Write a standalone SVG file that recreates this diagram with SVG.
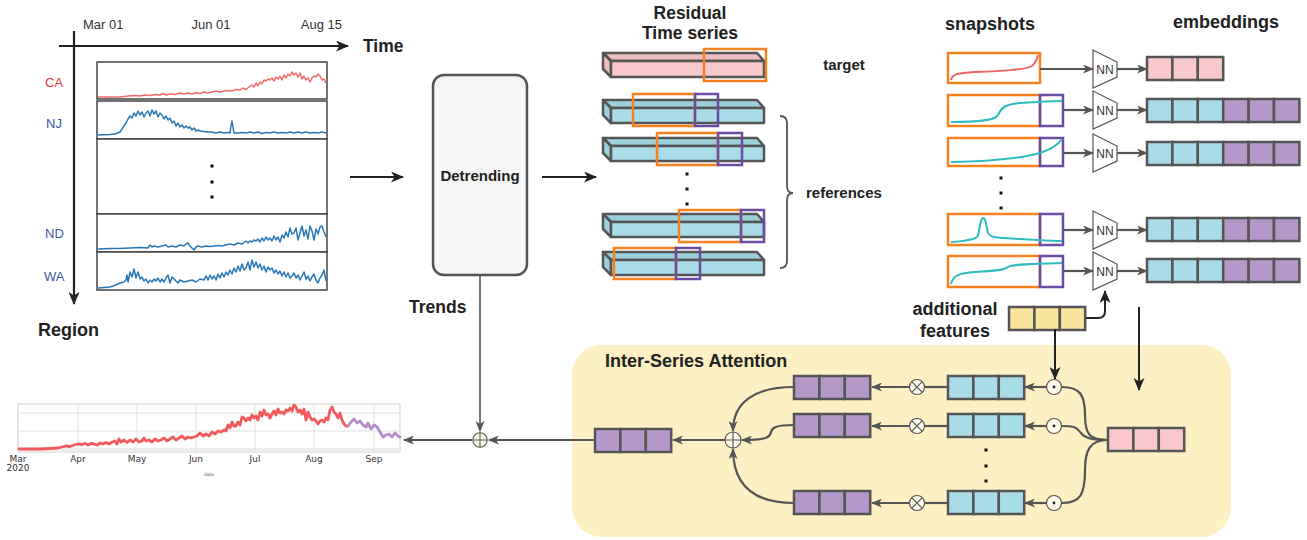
<svg xmlns="http://www.w3.org/2000/svg" xmlns:xlink="http://www.w3.org/1999/xlink" width="1307" height="540" viewBox="0 0 1307 540">
<style>
.t{font-family:"Liberation Sans",Arial,sans-serif;}
.b{font-family:"Liberation Sans",Arial,sans-serif;font-weight:bold;fill:#222;}
.cell{stroke:#555;stroke-width:2.5;}
.pk{fill:#f8c8cc}.bl{fill:#a8dce8}.pu{fill:#b597c9}.ye{fill:#fae39c}
.conn{stroke:#555;stroke-width:2.2;fill:none}
.blk{stroke:#222;stroke-width:2;fill:none}
.or{fill:none;stroke:#f5821f;stroke-width:2.5}
.vi{fill:none;stroke:#6a4ca2;stroke-width:2.5}
.dot{fill:#111}
.op{fill:#fffbea;stroke:#555;stroke-width:1.2}
.ser{fill:none;stroke-width:1.5;stroke-linejoin:round}
.fc{fill:none;stroke-width:2.8;stroke-linejoin:round;stroke-linecap:round}
.row{fill:#fff;stroke:#444;stroke-width:1.5}
.grid{stroke:#e2e2e2;stroke-width:1}
.tick{font-family:"DejaVu Sans",sans-serif;font-size:9px;fill:#333;text-anchor:middle}
.tiny{font-family:"DejaVu Sans",sans-serif;font-size:4.5px;fill:#555;text-anchor:middle}
</style>
<defs>
<marker id="ag" markerUnits="userSpaceOnUse" markerWidth="11" markerHeight="9" refX="10" refY="4.5" orient="auto"><path d="M0,0 L11,4.5 L0,9 L3,4.5 z" fill="#555"/></marker>
<marker id="ab" markerUnits="userSpaceOnUse" markerWidth="13" markerHeight="11" refX="12" refY="5.5" orient="auto"><path d="M0,0 L13,5.5 L0,11 L3.5,5.5 z" fill="#222"/></marker>
<g id="e3pk"><rect class="cell pk" x="0" y="0" width="25.4" height="23"/><rect class="cell pk" x="25.4" y="0" width="25.4" height="23"/><rect class="cell pk" x="50.8" y="0" width="25.4" height="23"/></g>
<g id="e3bl"><rect class="cell bl" x="0" y="0" width="25.4" height="23"/><rect class="cell bl" x="25.4" y="0" width="25.4" height="23"/><rect class="cell bl" x="50.8" y="0" width="25.4" height="23"/></g>
<g id="e3pu"><rect class="cell pu" x="0" y="0" width="25.4" height="23"/><rect class="cell pu" x="25.4" y="0" width="25.4" height="23"/><rect class="cell pu" x="50.8" y="0" width="25.4" height="23"/></g>
<g id="e3ye"><rect class="cell ye" x="0" y="0" width="25.4" height="23"/><rect class="cell ye" x="25.4" y="0" width="25.4" height="23"/><rect class="cell ye" x="50.8" y="0" width="25.4" height="23"/></g>
<g id="barPk" stroke="#555" stroke-width="2.5" stroke-linejoin="round"><polygon points="0,0 154,0 161,8 8,8" fill="#efbcc0"/><polygon points="0,0 8,8 8,24 0,16" fill="#efbcc0"/><rect x="8" y="8" width="153" height="16" fill="#f8c8cc"/></g>
<g id="barBl" stroke="#555" stroke-width="2.5" stroke-linejoin="round"><polygon points="0,0 154,0 161,8 8,8" fill="#9bd0dd"/><polygon points="0,0 8,8 8,23 0,15" fill="#9bd0dd"/><rect x="8" y="8" width="153" height="15" fill="#a8dce8"/></g>
<g id="nn"><polygon points="0,-19 24,-7 24,8 0,19" fill="#fff" stroke="#555" stroke-width="1.2"/><text class="t" x="12" y="4.5" font-size="12" text-anchor="middle" fill="#333">NN</text></g>
<g id="odot"><circle class="op" r="7.5"/><circle r="1.4" fill="#222"/></g>
<g id="otimes"><circle class="op" r="7.5"/><path d="M-5.3,-5.3 L5.3,5.3 M-5.3,5.3 L5.3,-5.3" stroke="#555" stroke-width="1.2"/></g>
<g id="oplus"><circle r="8" fill="#fffbea" stroke="#555" stroke-width="1.2"/><path d="M-8,0 H8 M0,-8 V8" stroke="#555" stroke-width="1.2"/></g>
</defs>

<!-- attention background -->
<rect id="attention-bg" x="572" y="345" width="659" height="192" rx="30" fill="#fdf0c3"/>

<!-- Left region/time chart -->
<g id="input-chart">
<text class="t" x="83" y="28.5" font-size="13" fill="#333">Mar 01</text>
<text class="t" x="211" y="28.5" font-size="13" fill="#333" text-anchor="middle">Jun 01</text>
<text class="t" x="342" y="28.5" font-size="13" fill="#333" text-anchor="end">Aug 15</text>
<line x1="59" y1="46" x2="348" y2="46" class="blk" style="stroke-width:2.2" marker-end="url(#ab)"/>
<line x1="74" y1="31" x2="74" y2="304" class="blk" style="stroke-width:2.2" marker-end="url(#ab)"/>
<text class="b" x="363" y="52" font-size="17.5">Time</text>
<text class="b" x="38" y="336" font-size="18">Region</text>
<rect class="row" x="97" y="62" width="230" height="37"/>
<rect class="row" x="97" y="101" width="230" height="38"/>
<rect class="row" x="97" y="139" width="230" height="75"/>
<rect class="row" x="97" y="214" width="230" height="38"/>
<rect class="row" x="97" y="252" width="230" height="38"/>
<text class="t" x="45" y="87" font-size="13" fill="#e8343c">CA</text>
<text class="t" x="46" y="128" font-size="13" fill="#3d55a8">NJ</text>
<text class="t" x="45" y="238" font-size="13" fill="#3d55a8">ND</text>
<text class="t" x="44" y="281" font-size="13" fill="#3d55a8">WA</text>
<rect class="dot" x="210.5" y="164.5" width="3" height="3"/>
<rect class="dot" x="210.5" y="180.5" width="3" height="3"/>
<rect class="dot" x="210.5" y="195.5" width="3" height="3"/>
<polyline class="ser" stroke="#f06a6e" points="98,97 110,97 120,97 128,96 135,95.5 140,96 145,95 150,95.5 155,94.5 160,95 163,93.5 166,95 170,94 175,94.5 180,93 184,94 188,93 192,94 196,92.5 200,93.5 204,92 208,93 212,92 216,91 220,92 224,91 228,90.5 232,91 236,89.5 240,90 243,88 246,89.5 249,87 252,85 254,87 256,83 258,86 260,82 262,84 264,80 266,81 268,79 270,80 272,78 274,81 276,77 278,79 280,76 282,80 284,75 286,78 288,74 290,76 292,72 294,75 296,73 298,77 300,73 302,79 304,76 306,80 308,78 310,82 312,78 314,76 316,77 318,74 320,76 322,80 324,79 326,83"/>
<polyline class="ser" stroke="#2a78b8" points="98,135 110,134.5 115,134 120,132 122,129 124,126 126,123 128,119 130,116 132,118 134,113 136,116 138,111 140,115 142,112 144,117 146,113 148,111 150,116 152,110 154,114 156,111 158,117 160,113 162,115 164,119 166,116 168,120 170,118 172,123 174,121 176,126 178,123 180,127 182,125 184,128 186,126 188,128 190,127 192,130 194,128 196,131 198,130 200,131 204,131.5 208,132 212,132 216,133 220,132 224,133 228,132.5 230,133 231,126 232,121 233,127 234,133 238,133 242,132.5 246,133 250,132 254,133 258,132 262,133.5 266,132.5 270,133 274,132 278,133 282,132.5 286,133 290,132 294,133 298,132 302,133 306,132 310,133 314,132.5 318,133 322,132 326,133"/>
<polyline class="ser" stroke="#2a78b8" points="98,249 110,248.5 120,248.5 130,248 140,247.5 148,248 150,245 152,247 154,246 158,247 162,246 166,245 168,247 172,246 176,247 180,245 184,246 186,244 188,243 190,246 192,248 194,250 196,247 198,246 202,247 206,246 210,246.5 214,246 218,245.5 222,246 226,245 230,244 234,245 238,243 242,244 246,241 248,243 250,241 252,242 254,240 256,241 258,239 260,242 262,238 264,241 266,237 268,240 270,238 272,241 274,236 276,240 278,237 280,242 282,235 284,238 286,232 288,237 290,228 292,234 294,233 296,228 298,240 300,233 302,226 304,236 306,230 308,239 310,226 312,231 314,240 316,229 318,234 320,227 322,226 324,232 326,237"/>
<polyline class="ser" stroke="#2a78b8" points="98,288 104,287.5 110,287 116,285 120,283 124,282 126,280 127,275 128,282 130,272 132,277 134,269 136,278 138,272 140,279 142,277 144,281 146,279 148,283 150,280 152,282 154,279 156,281 158,278 160,282 162,279 164,282 166,278 168,275 170,283 172,277 174,279 176,281 178,283 180,280 184,282 188,281 192,280 196,282 200,279 204,280 206,276 208,280 210,275 212,279 214,276 216,280 218,274 220,278 222,273 224,277 226,272 228,275 230,270 232,274 234,268 236,272 238,266 240,271 242,264 244,270 246,268 248,262 250,270 252,260 254,267 256,262 258,268 260,264 262,270 264,266 266,272 268,267 270,270 272,268 274,273 276,270 278,274 280,271 282,276 284,272 286,277 288,273 290,278 292,276 294,273 296,278 298,275 300,280 302,276 304,272 306,279 308,276 310,281 312,277 314,274 316,280 318,283 320,278 322,275 324,270 326,281"/>
</g>

<!-- Detrending -->
<g id="detrending">
<rect x="433" y="75" width="94" height="200" rx="11" fill="#f5f5f5" stroke="#555" stroke-width="2.5"/>
<text class="b" x="480" y="181" font-size="15" text-anchor="middle" fill="#444">Detrending</text>
</g>
<text class="b" x="409" y="313" font-size="17.5">Trends</text>

<!-- Residual time series -->
<g id="residuals">
<text class="b" x="690" y="19" font-size="17.5" text-anchor="middle">Residual</text>
<text class="b" x="690" y="39" font-size="17.5" text-anchor="middle">Time series</text>
<use xlink:href="#barPk" transform="translate(603,53)"/>
<rect class="or" x="704" y="49" width="62" height="32"/>
<use xlink:href="#barBl" transform="translate(603,100)"/>
<rect class="or" x="633" y="94" width="62" height="32"/><rect class="vi" x="695" y="94" width="23" height="32"/>
<use xlink:href="#barBl" transform="translate(603,138)"/>
<rect class="or" x="657" y="133" width="61" height="32"/><rect class="vi" x="718" y="133" width="24" height="32"/>
<rect class="dot" x="685.5" y="172.5" width="3" height="3"/>
<rect class="dot" x="685.5" y="187.5" width="3" height="3"/>
<rect class="dot" x="685.5" y="202.5" width="3" height="3"/>
<use xlink:href="#barBl" transform="translate(603,214)"/>
<rect class="or" x="679" y="210" width="62" height="32"/><rect class="vi" x="741" y="210" width="23" height="32"/>
<use xlink:href="#barBl" transform="translate(603,252)"/>
<rect class="or" x="614" y="248" width="62" height="31"/><rect class="vi" x="676" y="248" width="24" height="31"/>
<text class="b" x="844" y="70" font-size="15" text-anchor="middle">target</text>
<path d="M780,116 Q787,116 787,123 V186 Q787,193 793,193 Q787,193 787,200 V261 Q787,268 780,268" fill="none" stroke="#555" stroke-width="1.8"/>
<text class="b" x="806" y="198" font-size="15">references</text>
</g>

<!-- Snapshots -->
<g id="snapshots">
<text class="b" x="945" y="30" font-size="18">snapshots</text>
<rect class="or" x="948" y="53" width="92" height="30"/>
<path d="M951,80 C952,74 958,73 975,72 C1000,71 1025,70 1032,66 C1036,63 1037,59 1038,55" fill="none" stroke="#ee6368" stroke-width="2"/>
<rect class="or" x="948" y="95" width="92" height="31"/><rect class="vi" x="1040" y="95" width="23" height="31"/>
<path d="M951,122 C975,122 995,121 998,115 C1002,106 1008,104 1020,103 C1040,102 1050,101 1062,101" fill="none" stroke="#2ebcbf" stroke-width="2"/>
<rect class="or" x="948" y="138" width="92" height="28"/><rect class="vi" x="1040" y="138" width="23" height="28"/>
<path d="M951,162 C990,161 1020,159 1040,153 C1052,149 1058,145 1062,139" fill="none" stroke="#2ebcbf" stroke-width="2"/>
<rect class="dot" x="999.5" y="176.5" width="3" height="3"/>
<rect class="dot" x="999.5" y="191.5" width="3" height="3"/>
<rect class="dot" x="999.5" y="206.5" width="3" height="3"/>
<rect class="or" x="948" y="214" width="92" height="31"/><rect class="vi" x="1040" y="214" width="23" height="31"/>
<path d="M951,242 C965,241 975,240 978,236 C980,225 981,218 983,218 C986,218 986,225 988,233 C990,238 1000,238 1020,239 C1040,240 1050,241 1062,241" fill="none" stroke="#2ebcbf" stroke-width="2"/>
<rect class="or" x="948" y="256" width="92" height="31"/><rect class="vi" x="1040" y="256" width="23" height="31"/>
<path d="M951,284 C953,276 958,273 975,272 C995,271 1005,270 1008,267 C1012,264 1030,264 1062,263" fill="none" stroke="#2ebcbf" stroke-width="2"/>
</g>

<!-- NN encoders -->
<g id="encoders">
<use xlink:href="#nn" transform="translate(1093,69)"/>
<use xlink:href="#nn" transform="translate(1093,110)"/>
<use xlink:href="#nn" transform="translate(1093,153)"/>
<use xlink:href="#nn" transform="translate(1093,230)"/>
<use xlink:href="#nn" transform="translate(1093,271)"/>
</g>

<!-- Embeddings -->
<g id="embeddings">
<text class="b" x="1173" y="28" font-size="18">embeddings</text>
<use xlink:href="#e3pk" transform="translate(1147,57)"/>
<use xlink:href="#e3bl" transform="translate(1147,99)"/><use xlink:href="#e3pu" transform="translate(1223.2,99)"/>
<use xlink:href="#e3bl" transform="translate(1147,142)"/><use xlink:href="#e3pu" transform="translate(1223.2,142)"/>
<use xlink:href="#e3bl" transform="translate(1147,218)"/><use xlink:href="#e3pu" transform="translate(1223.2,218)"/>
<use xlink:href="#e3bl" transform="translate(1147,259)"/><use xlink:href="#e3pu" transform="translate(1223.2,259)"/>
</g>

<!-- Additional features -->
<g id="additional-features">
<text class="b" x="955" y="315" font-size="18" text-anchor="middle">additional</text>
<text class="b" x="955" y="337" font-size="18" text-anchor="middle">features</text>
<use xlink:href="#e3ye" transform="translate(1009,307)"/>
</g>

<!-- Attention module -->
<g id="attention">
<text class="b" x="605" y="367" font-size="18">Inter-Series Attention</text>
<use xlink:href="#e3pk" transform="translate(1108,428)"/>
<use xlink:href="#odot" transform="translate(1054,387)"/>
<use xlink:href="#odot" transform="translate(1054,426)"/>
<use xlink:href="#odot" transform="translate(1054,503)"/>
<use xlink:href="#e3bl" transform="translate(948,376)"/>
<use xlink:href="#e3bl" transform="translate(948,414)"/>
<use xlink:href="#e3bl" transform="translate(948,491)"/>
<rect class="dot" x="984.5" y="448.5" width="3" height="3"/>
<rect class="dot" x="984.5" y="464.5" width="3" height="3"/>
<rect class="dot" x="984.5" y="479.5" width="3" height="3"/>
<use xlink:href="#otimes" transform="translate(917,387)"/>
<use xlink:href="#otimes" transform="translate(917,426)"/>
<use xlink:href="#otimes" transform="translate(917,503)"/>
<use xlink:href="#e3pu" transform="translate(794,376)"/>
<use xlink:href="#e3pu" transform="translate(794,414)"/>
<use xlink:href="#e3pu" transform="translate(794,491)"/>
<use xlink:href="#oplus" transform="translate(733,440)"/>
<use xlink:href="#e3pu" transform="translate(595,429)"/>
</g>

<!-- Forecast chart -->
<g id="forecast-chart">
<rect x="18" y="404" width="382" height="48" fill="#fff" stroke="#cfcfcf" stroke-width="1"/>
<rect x="18" y="448" width="382" height="4" fill="#ececec"/>
<path class="grid" d="M78,404 V452 M137,404 V452 M196,404 V452 M255,404 V452 M314,404 V452 M374,404 V452 M18,413 H400 M18,431 H400"/>
<polyline class="fc" stroke="#f25a5e" points="19,449 30,449 40,449 50,448.5 58,448 62,447 66,446 70,446.5 74,445 78,444 82,444.5 85,443.5 88,445 91,443.5 94,444 97,445 100,443 103,444 106,442.5 109,444 112,442 115,441 117,444 119,439 121,442 124,440 127,442.5 130,440 133,442 136,439 139,442 142,441 144,438 146,441 149,440 152,442 155,439 158,441 161,440 164,438 167,441 170,439 173,437 176,440 179,438 182,436 185,439 188,437 191,438 194,437 197,436 200,433 203,436 206,434 209,436 212,432 215,434 218,431 221,432 224,430 226,431 228,425 230,428 232,422 234,426 236,426 238,422 240,425 242,417 244,418 246,421 248,418 250,420 252,415 254,418 256,416 258,420 260,412 262,416 264,410 266,415 268,414 270,418 272,414 274,411 276,415 278,409 280,413 282,412 284,414 286,410 288,411 290,408 292,411 294,405 296,407 298,412 300,410 302,414 304,409 306,420 308,412 310,417 312,420 314,419 316,421 318,424 320,421 322,420 324,422 326,418 328,420 330,410 332,407 334,412 336,414 338,418 340,413 342,420 344,424 346,426 348,426"/>
<polyline class="fc" stroke="#b48cc8" points="348,426 351,422 354,419 357,423 360,421 363,425 366,427 368,423 371,429 374,425 377,427 380,432 383,437 386,435 389,434 392,437 395,433 398,436 400,437"/>
<text class="tick" x="18" y="462">Mar</text>
<text class="tick" x="18" y="471">2020</text>
<text class="tick" x="78" y="462">Apr</text>
<text class="tick" x="137" y="462">May</text>
<text class="tick" x="196" y="462">Jun</text>
<text class="tick" x="255" y="462">Jul</text>
<text class="tick" x="314" y="462">Aug</text>
<text class="tick" x="374" y="462">Sep</text>
<text class="tiny" x="209" y="476">date</text>
</g>

<!-- connectors -->
<g id="connectors">
<line x1="350" y1="177" x2="403" y2="177" class="blk" marker-end="url(#ab)"/>
<line x1="542" y1="177" x2="596" y2="177" class="blk" marker-end="url(#ab)"/>
<line x1="1040" y1="69" x2="1093" y2="69" class="conn" marker-end="url(#ag)"/>
<line x1="1063" y1="110" x2="1093" y2="110" class="conn" marker-end="url(#ag)"/>
<line x1="1063" y1="153" x2="1093" y2="153" class="conn" marker-end="url(#ag)"/>
<line x1="1063" y1="230" x2="1093" y2="230" class="conn" marker-end="url(#ag)"/>
<line x1="1063" y1="271" x2="1093" y2="271" class="conn" marker-end="url(#ag)"/>
<line x1="1117" y1="69" x2="1147" y2="69" class="conn" marker-end="url(#ag)"/>
<line x1="1117" y1="110" x2="1147" y2="110" class="conn" marker-end="url(#ag)"/>
<line x1="1117" y1="153" x2="1147" y2="153" class="conn" marker-end="url(#ag)"/>
<line x1="1117" y1="230" x2="1147" y2="230" class="conn" marker-end="url(#ag)"/>
<line x1="1117" y1="271" x2="1147" y2="271" class="conn" marker-end="url(#ag)"/>
<path d="M1086,318 H1098 Q1105,318 1105,311 V291" class="blk" marker-end="url(#ab)"/>
<line x1="1055" y1="329" x2="1055" y2="379" class="blk" marker-end="url(#ab)"/>
<line x1="1139" y1="307" x2="1139" y2="390" class="blk" marker-end="url(#ab)"/>
<path d="M1108,440 C1090,440 1085,435 1085,415 C1085,395 1080,387 1062,387" class="conn"/>
<path d="M1108,440 C1092,440 1085,438 1081,433 C1077,427 1074,426 1062,426" class="conn"/>
<path d="M1108,440 C1090,440 1085,450 1085,470 C1085,495 1080,503 1062,503" class="conn"/>
<line x1="1046" y1="387" x2="1025" y2="387" class="conn" marker-end="url(#ag)"/>
<line x1="1046" y1="426" x2="1025" y2="426" class="conn" marker-end="url(#ag)"/>
<line x1="1046" y1="503" x2="1025" y2="503" class="conn" marker-end="url(#ag)"/>
<line x1="948" y1="387" x2="925" y2="387" class="conn"/>
<line x1="948" y1="426" x2="925" y2="426" class="conn"/>
<line x1="948" y1="503" x2="925" y2="503" class="conn"/>
<line x1="909" y1="387" x2="872" y2="387" class="conn" marker-end="url(#ag)"/>
<line x1="909" y1="426" x2="872" y2="426" class="conn" marker-end="url(#ag)"/>
<line x1="909" y1="503" x2="872" y2="503" class="conn" marker-end="url(#ag)"/>
<path d="M794,387 C755,387 733,402 733,431" class="conn" marker-end="url(#ag)"/>
<path d="M794,425 C775,425 772,428 771,432 C770,438 765,440 742,440" class="conn" marker-end="url(#ag)"/>
<path d="M794,503 C755,503 733,486 733,449" class="conn" marker-end="url(#ag)"/>
<line x1="725" y1="440" x2="673" y2="440" class="conn" marker-end="url(#ag)"/>
<line x1="595" y1="440" x2="489" y2="440" class="conn" marker-end="url(#ag)"/>
<line x1="480" y1="275" x2="480" y2="431" class="conn" style="stroke-width:1.6" marker-end="url(#ag)"/>
<use xlink:href="#oplus" transform="translate(480,440) scale(0.9)"/>
<line x1="472" y1="440" x2="404" y2="440" class="conn" marker-end="url(#ag)"/>
</g>
</svg>
